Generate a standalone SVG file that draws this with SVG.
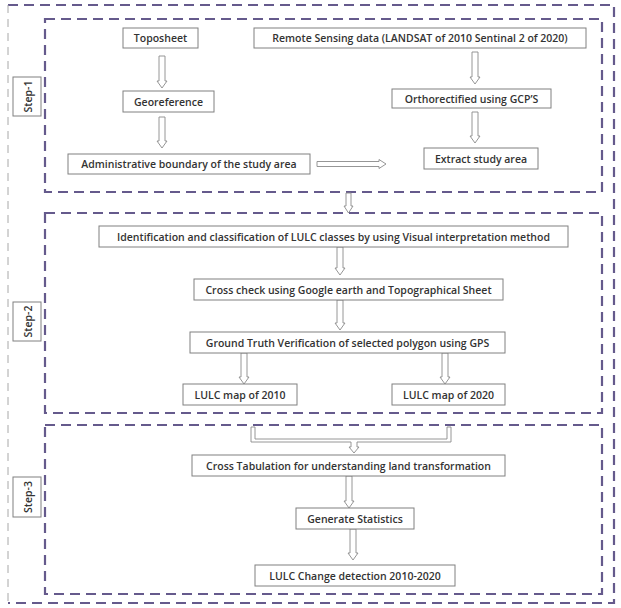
<svg xmlns="http://www.w3.org/2000/svg" width="621" height="608" viewBox="0 0 621 608">
<style>
.frame{fill:none;stroke:#655a8c;stroke-width:2.2;stroke-dasharray:10 6}
.outerl{fill:none;stroke:#a8a8a8;stroke-width:1;stroke-dasharray:8 6}
.box{fill:#fff;stroke:#808080;stroke-width:1}
.t{font-family:"Open Sans","Liberation Sans",sans-serif;font-size:10.5px;font-weight:600;fill:#333;text-anchor:middle;dominant-baseline:central}
.arr{fill:#fff;stroke:#8a8a8a;stroke-width:0.9}
</style>
<rect width="621" height="608" fill="#fff"/>
<g id="frames">
<path class="frame" d="M8,5 H614 V603 H8"/>
<path class="outerl" d="M8,5 V603"/>
<rect class="frame" x="45" y="19" width="557" height="173"/>
<rect class="frame" x="45" y="213" width="557" height="200"/>
<rect class="frame" x="45" y="425" width="557" height="169"/>
</g>
<g id="step1-label"><rect class="box" x="13" y="77" width="28" height="39"/><text class="t" transform="translate(27.5,96.5) rotate(-90)">Step-1</text></g>
<g id="step2-label"><rect class="box" x="13" y="302" width="28" height="39"/><text class="t" transform="translate(27.5,321.5) rotate(-90)">Step-2</text></g>
<g id="step3-label"><rect class="box" x="13" y="477" width="28" height="40"/><text class="t" transform="translate(27.5,497) rotate(-90)">Step-3</text></g>
<g id="connectors">
<path class="arr" d="M159,56 V81 H157 L162,88 L167,81 H165 V56 Z"/>
<path class="arr" d="M159,117 V141 H157 L162,148 L167,141 H165 V117 Z"/>
<path class="arr" d="M317,161.5 H379 V159.5 L386,164 L379,168.5 V166.5 H317 Z"/>
<path class="arr" d="M472,52 V77 H470 L475,84 L480,77 H478 V52 Z"/>
<path class="arr" d="M472,112 V136 H470 L475,143 L480,136 H478 V112 Z"/>
<path class="arr" d="M346,193 V206 H344 L348.5,213 L353,206 H351 V193 Z"/>
<path class="arr" d="M337,247 V268 H335 L340,275 L345,268 H343 V247 Z"/>
<path class="arr" d="M337,300 V323 H335 L340,330 L345,323 H343 V300 Z"/>
<path class="arr" d="M241,353 V377 H239 L244,384 L249,377 H247 V353 Z"/>
<path class="arr" d="M442,353 V377 H440 L445,384 L450,377 H448 V353 Z"/>
<path class="arr" d="M251,427 H255 V439 H447 V427 H451 V442 H357 V447 H359 L354,453 L349,447 H351 V442 H251 Z"/>
<path class="arr" d="M346,476 V501 H344 L349,508 L354,501 H352 V476 Z"/>
<path class="arr" d="M350,529 V553 H348 L353,560 L358,553 H356 V529 Z"/>
</g>
<g id="toposheet"><rect class="box" x="123" y="28" width="75" height="20"/><text class="t" x="160.5" y="38">Toposheet</text></g>
<g id="remote"><rect class="box" x="254" y="28" width="332" height="20"/><text class="t" x="420" y="38">Remote Sensing data (LANDSAT of 2010 Sentinal 2 of 2020)</text></g>
<g id="georef"><rect class="box" x="123" y="91" width="91" height="21"/><text class="t" x="168.5" y="101.5">Georeference</text></g>
<g id="admin"><rect class="box" x="68" y="154" width="242" height="20"/><text class="t" x="189" y="164">Administrative boundary of the study area</text></g>
<g id="ortho"><rect class="box" x="392" y="89" width="159" height="19"/><text class="t" x="471.5" y="98.5">Orthorectified using GCP’S</text></g>
<g id="extract"><rect class="box" x="424" y="148" width="114" height="21"/><text class="t" x="481" y="158.5">Extract study area</text></g>
<g id="identification"><rect class="box" x="99" y="226" width="469" height="21"/><text class="t" x="333.5" y="236.5">Identification and classification of LULC classes by using Visual interpretation method</text></g>
<g id="crosscheck"><rect class="box" x="194" y="279" width="309" height="21"/><text class="t" x="348.5" y="289.5">Cross check using Google earth and Topographical Sheet</text></g>
<g id="groundtruth"><rect class="box" x="190" y="332" width="315" height="21"/><text class="t" x="347.5" y="342.5">Ground Truth Verification of selected polygon using GPS</text></g>
<g id="lulc2010"><rect class="box" x="183" y="384" width="114" height="21"/><text class="t" x="240" y="394.5">LULC map of 2010</text></g>
<g id="lulc2020"><rect class="box" x="392" y="384" width="113" height="21"/><text class="t" x="448.5" y="394.5">LULC map of 2020</text></g>
<g id="crosstab"><rect class="box" x="192" y="455" width="313" height="21"/><text class="t" x="348.5" y="465.5">Cross Tabulation for understanding land transformation</text></g>
<g id="stats"><rect class="box" x="296" y="508" width="118" height="21"/><text class="t" x="355" y="518.5">Generate Statistics</text></g>
<g id="change"><rect class="box" x="255" y="565" width="200" height="21"/><text class="t" x="355" y="575.5">LULC Change detection 2010-2020</text></g>
</svg>
